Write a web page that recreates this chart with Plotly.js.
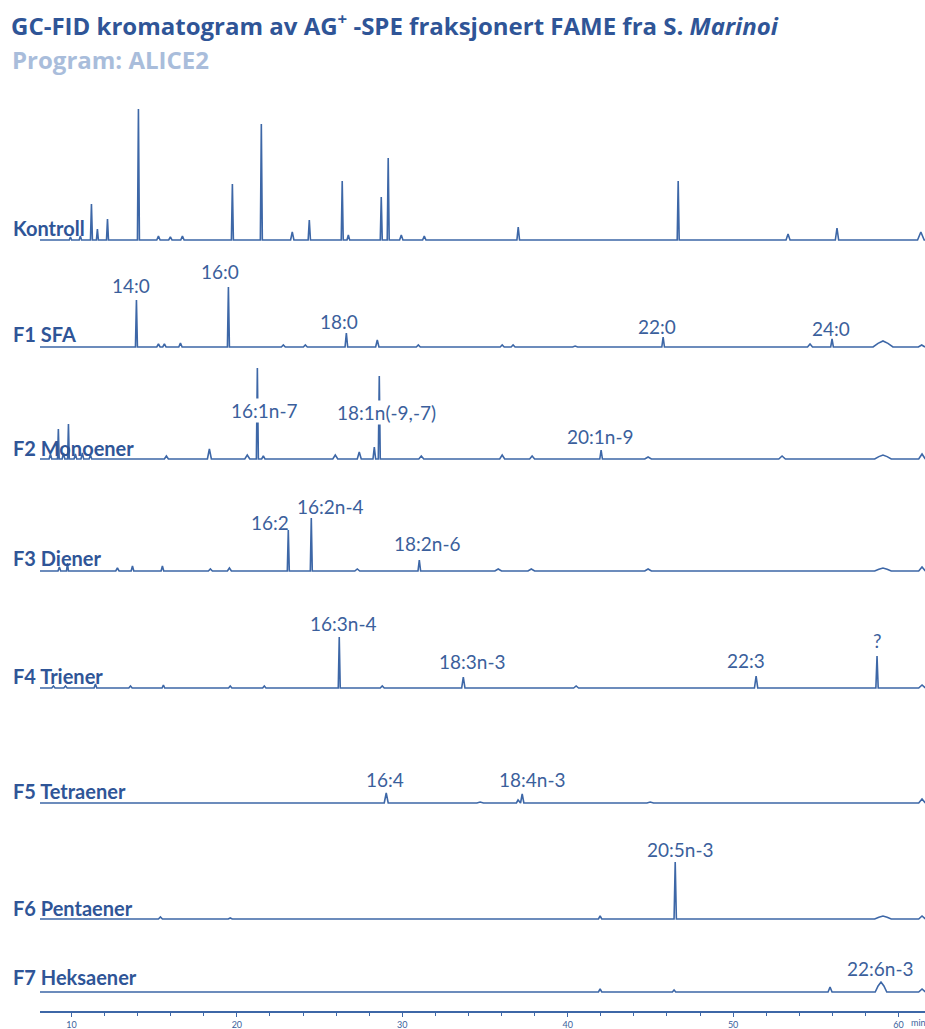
<!DOCTYPE html>
<html>
<head>
<meta charset="utf-8">
<script src="https://cdn.plot.ly/plotly-3.0.1.min.js"></script>
<style>html,body{margin:0;padding:0;background:#fff}#chart{width:925px;height:1029px}</style>
</head>
<body>
<div id="chart"></div>
<script>
// ---------------- DATA ----------------
// retention times (min), peak heights (signal units), peak half-widths (min)
const seriesNames = ["Kontroll","F1 SFA","F2 Monoener","F3 Diener","F4 Triener","F5 Tetraener","F6 Pentaener","F7 Heksaener"];

const kontrollRT = [9.94,10.54,11.21,11.57,12.18,14.05,15.26,15.98,16.71,19.73,21.48,23.35,24.38,26.37,26.74,28.73,29.15,29.94,31.33,37.01,46.68,53.32,56.28,61.35];
const kontrollH  = [3,4,36,11,21,131,4,3,4,56,116,8,20,59,5,43,82,5,4,13,59,6,12,8];
const kontrollW  = [0.07,0.07,0.06,0.06,0.06,0.06,0.1,0.1,0.1,0.06,0.06,0.1,0.07,0.06,0.08,0.06,0.06,0.1,0.1,0.08,0.06,0.12,0.1,0.2];

const f1RT = [15.26,15.62,16.59,13.93,19.49,22.81,24.14,26.62,28.49,30.97,36.04,36.7,40.45,45.77,54.65,55.98,59.06,61.4];
const f1H  = [3,3,4,47,60,2,2,14,7,2,2,2,1,10,3,8,6,2];
const f1W  = [0.1,0.1,0.1,0.06,0.06,0.12,0.12,0.08,0.1,0.12,0.12,0.12,0.15,0.08,0.15,0.08,0.6,0.2];

const f2RT = [8.73,9.21,9.52,9.82,10.24,10.66,11.15,15.74,18.34,20.63,21.24,21.6,25.95,27.4,28.31,28.61,31.15,36.04,37.85,42.02,44.86,52.96,59.06,61.42];
const f2H  = [5,30,6,35,5,6,4,3,10,4,91,3,4,7,12,83,3,4,3,9,2,3,4,5];
const f2W  = [0.08,0.05,0.08,0.05,0.08,0.08,0.08,0.12,0.12,0.15,0.06,0.1,0.15,0.12,0.08,0.06,0.15,0.15,0.15,0.08,0.2,0.2,0.5,0.2];

const f3RT = [9.27,9.76,12.78,13.69,15.5,18.4,19.55,23.11,24.5,27.28,31.03,35.8,37.8,44.86,59.06,61.42];
const f3H  = [4,8,3,5,5,2,3,41,53,2,11,2,2,2,3,4];
const f3W  = [0.08,0.06,0.1,0.08,0.08,0.12,0.12,0.06,0.06,0.15,0.08,0.2,0.2,0.2,0.5,0.2];

const f4RT = [8.91,9.64,11.45,13.57,15.56,19.6,21.66,26.19,28.79,33.69,40.51,51.39,58.7,61.42];
const f4H  = [2,2,4,2,3,2,2,51,2,11,2,12,32,3];
const f4W  = [0.1,0.1,0.08,0.1,0.08,0.1,0.1,0.06,0.12,0.1,0.15,0.1,0.07,0.2];

const f5RT = [29.03,34.71,37.0,37.25,44.99,61.42];
const f5H  = [10,1,3,9,1,4];
const f5W  = [0.12,0.2,0.1,0.1,0.2,0.2];

const f6RT = [15.38,19.6,41.96,46.5,59.06,61.42];
const f6H  = [2,1,3,57,3,3];
const f6W  = [0.12,0.12,0.1,0.07,0.5,0.2];

const f7RT = [41.96,46.43,55.86,58.94,61.42];
const f7H  = [3,2,5,10,3];
const f7W  = [0.1,0.1,0.12,0.35,0.2];

// peak labels per series: text, time, height of label (signal units above baseline)
const peakLabelText = [
  ["14:0","16:0","18:0","22:0","24:0"],
  ["16:1n-7","18:1n(-9,-7)","20:1n-9"],
  ["16:2","16:2n-4","18:2n-6"],
  ["16:3n-4","18:3n-3","22:3","?"],
  ["16:4","18:4n-3"],
  ["20:5n-3"],
  ["22:6n-3"]
];
const peakLabelRT = [
  [13.63,19.0,26.19,45.41,55.92],
  [21.66,29.03,41.96],
  [22.02,25.65,31.51],
  [26.43,34.23,50.79,58.7],
  [28.97,37.86],
  [46.8],
  [58.88]
];
const peakLabelH = [
  [62,76,26,21,19],
  [49,47,23],
  [49,65,28],
  [65,27,28,48],
  [24,24],
  [70],
  [24]
];

const xTickVals = [10,20,30,40,50,60];
const xTickText = ["10","20","30","40","50","60"];

// ---------------- LAYOUT CONSTANTS ----------------
const XMIN = 8.1, XMAX = 61.6;
const PLOT_TOP = 90, PLOT_BOTTOM = 1011;
const YMAX = PLOT_BOTTOM - PLOT_TOP;
const baselineShift = 1013 - PLOT_BOTTOM;
const baselines = [773,666,554,442,325,210,94,21].map(v=>v-baselineShift);
const LINE = "#3d67a7";
const TXT = "#3b5f9c";
const DARK = "#2f5597";
const FONT = "Lato, 'Open Sans', sans-serif";

const allRT = [kontrollRT,f1RT,f2RT,f3RT,f4RT,f5RT,f6RT,f7RT];
const allH  = [kontrollH,f1H,f2H,f3H,f4H,f5H,f6H,f7H];
const allW  = [kontrollW,f1W,f2W,f3W,f4W,f5W,f6W,f7W];

function buildTrace(rt, h, w, base, name) {
  const peaks = rt.map((t,i)=>({t:t,h:h[i],w:w[i]})).sort((a,b)=>a.t-b.t);
  const xs=[XMIN], ys=[base];
  peaks.forEach(p=>{
    if (p.w > 0.25) {
      xs.push(p.t-p.w, p.t-p.w*0.5, p.t, p.t+p.w*0.5, p.t+p.w);
      ys.push(base, base+p.h*0.6, base+p.h, base+p.h*0.6, base);
    } else {
      xs.push(p.t-p.w, p.t, p.t+p.w);
      ys.push(base, base+p.h, base);
    }
  });
  xs.push(XMAX); ys.push(base);
  return {x:xs, y:ys, type:"scatter", mode:"lines", name:name,
          line:{color:LINE, width:1.6}, hoverinfo:"skip", showlegend:false};
}

const traces = allRT.map((rt,i)=>buildTrace(rt, allH[i], allW[i], baselines[i], seriesNames[i]));

const PAPER_W = 885;
const annotations = [];
// series names
seriesNames.forEach((n,i)=>{
  const off = [12,13,11,13,12,12,11,15][i];
  annotations.push({text:"<b>"+n+"</b>", xref:"paper", x:(11-40)/PAPER_W, xanchor:"left",
    yref:"y", y:baselines[i]+off, yanchor:"middle", showarrow:false,
    font:{family:FONT, size:20, color:DARK}});
});
// peak labels
peakLabelText.forEach((arr,si)=>{
  arr.forEach((t,j)=>{
    annotations.push({text:t, xref:"x", x:peakLabelRT[si][j], xanchor:"center",
      yref:"y", y:baselines[si+1]+peakLabelH[si][j], yanchor:"middle", showarrow:false,
      bgcolor: si===1 && j<2 ? "#ffffff" : "rgba(0,0,0,0)", borderpad:0,
      font:{family:FONT, size:19, color:TXT}});
  });
});
// subtitle
annotations.push({text:"<b>Program: ALICE2</b>", xref:"paper", x:(10-40)/PAPER_W, xanchor:"left",
  yref:"paper", y:(PLOT_BOTTOM-60)/YMAX, yanchor:"middle", showarrow:false,
  font:{family:"'Open Sans', sans-serif", size:24, color:"#a9bddb"}});
// axis unit
annotations.push({text:"min", xref:"paper", x:(909-40)/PAPER_W, xanchor:"left",
  yref:"paper", y:-11/YMAX, yanchor:"middle", showarrow:false,
  font:{family:FONT, size:9, color:TXT}});

const layout = {
  width:925, height:1029,
  margin:{l:40, r:0, t:PLOT_TOP, b:1029-PLOT_BOTTOM, pad:0},
  paper_bgcolor:"#ffffff", plot_bgcolor:"#ffffff",
  title:{text:"<b>GC-FID kromatogram av AG<sup>+</sup> -SPE fraksjonert FAME fra S. <i>Marinoi</i></b>",
    x:11/925, xref:"container", xanchor:"left", y:1-27/1029, yref:"container", yanchor:"middle",
    font:{family:"'Open Sans', sans-serif", size:24, color:DARK}},
  xaxis:{range:[XMIN,XMAX], showline:true, linecolor:LINE, linewidth:2, mirror:false,
    ticks:"outside", ticklen:4, tickwidth:1, tickcolor:LINE,
    tickvals:xTickVals, ticktext:xTickText, showgrid:false, zeroline:false,
    tickfont:{family:FONT, size:9, color:TXT},
    minor:{dtick:2, tick0:0, ticks:"outside", ticklen:3, tickcolor:LINE, showgrid:false}},
  yaxis:{range:[0,YMAX], visible:false, showgrid:false, zeroline:false, fixedrange:true},
  annotations:annotations,
  showlegend:false
};

Plotly.newPlot("chart", traces, layout, {displayModeBar:false, staticPlot:true});
</script>
</body>
</html>
